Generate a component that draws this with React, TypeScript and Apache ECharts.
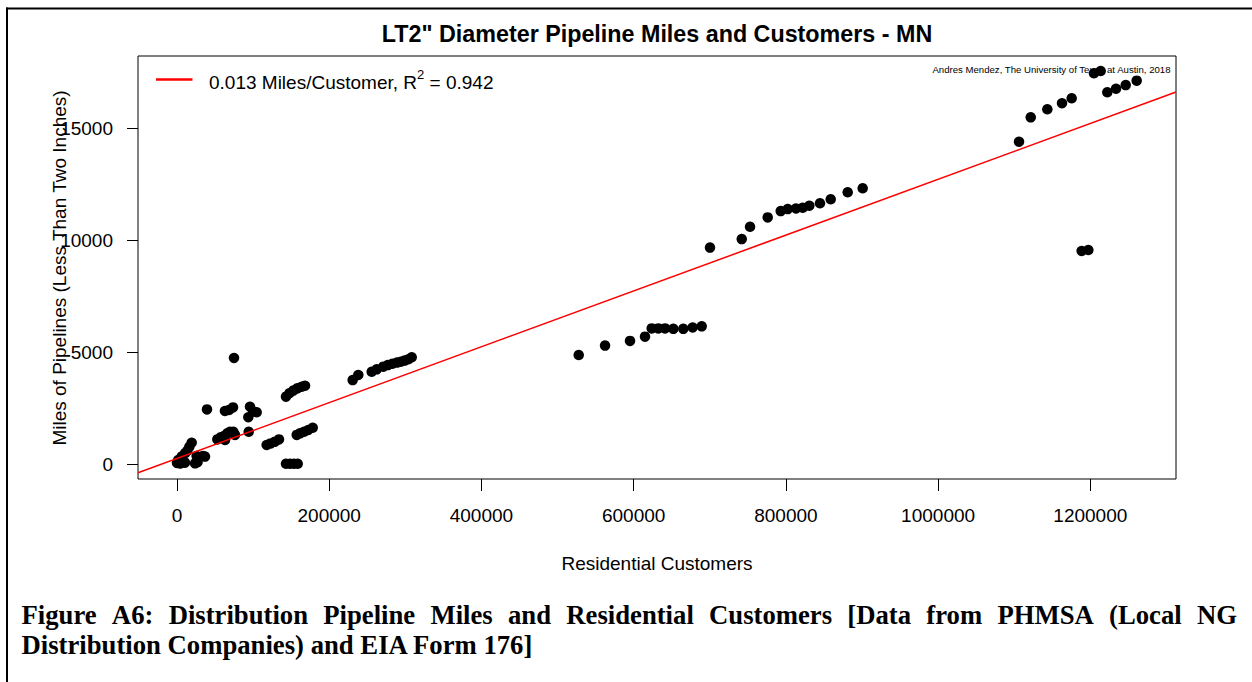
import React, { useEffect, useRef } from "react";
import * as echarts from "echarts";

// Residential customers (x) and miles of pipeline < 2" (y)
const customers = [
  0, 1700, 3900, 6100, 10500, 13500, 16200, 19300, 10500, 5000, 23700, 27000, 25800, 33800, 36800,
  39400,
  53000, 57400, 61800, 66100, 69600, 74000, 76200, 63100,
  63000, 68300, 73600,
  74900,
  93700, 95900, 100000, 104700, 94200,
  117800, 123100, 128800, 134000,
  143200, 148500, 153700, 158600,
  143200, 147600, 152800, 158100, 163800, 168200,
  157300, 161600, 166900, 172500, 178300,
  230800, 238200, 255800, 262400, 271100, 277000, 283000, 289000, 294000, 299000, 304000, 308400,
  527800, 562400, 595200, 614900, 623700, 632400, 641200, 652100, 665200, 677500, 689400,
  700300, 742000, 752900, 776100, 793200, 802400, 813300, 822100, 830800, 844800, 858900, 881200, 900900,
  1106300, 1121700, 1143500, 1162800, 1175500, 1204800, 1213600, 1222300, 1233800, 1246500, 1260900,
  1188600, 1197400,
];
const miles = [
  50, 180, 20, 330, 480, 590, 770, 950, 60, 40, 30, 80, 360, 360, 330,
  2440,
  1100, 1190, 1250, 1370, 1440, 1440, 1300, 1070,
  2370, 2410, 2530,
  4740,
  2090, 2560, 2350, 2310, 1440,
  850, 920, 1000, 1100,
  10, 10, 10, 10,
  3010, 3160, 3280, 3380, 3450, 3500,
  1300, 1370, 1440, 1520, 1620,
  3750, 3980, 4120, 4230, 4350, 4420, 4480, 4530, 4570, 4620, 4680, 4770,
  4870, 5290, 5500, 5690, 6060, 6060, 6060, 6040, 6040, 6100, 6150,
  9670, 10050, 10600, 11020, 11300, 11390, 11420, 11450, 11540, 11650, 11830, 12140, 12320,
  14400, 15490, 15850, 16120, 16340, 17460, 17560, 16610, 16770, 16930, 17130,
  9520, 9560,
];

// fitted line end points
const fitX = [-51240, 1312560];
const fitY = [-392, 16622];

const xTicks = [0, 200000, 400000, 600000, 800000, 1000000, 1200000];
const yTicks = [0, 5000, 10000, 15000];

const titleText = 'LT2" Diameter Pipeline Miles and Customers - MN';
const xTitle = "Residential Customers";
const yTitle = "Miles of Pipelines (Less Than Two Inches)";
const creditText = "Andres Mendez, The University of Texas at Austin, 2018";
const legendMain = "0.013 Miles/Customer, R";
const legendSup = "2";
const legendTail = " = 0.942";
const captionLine1 = [
  "Figure", "A6:", "Distribution", "Pipeline", "Miles", "and", "Residential",
  "Customers", "[Data", "from", "PHMSA", "(Local", "NG",
];
const captionLine2 = "Distribution Companies) and EIA Form 176]";

const SANS = '"Liberation Sans", Arial, sans-serif';
const SERIF = '"Liberation Serif", "Times New Roman", serif';

function textEl(x: number, y: number, text: string, opts: any = {}) {
  const align = opts.align || "left";
  const va = opts.verticalAlign || "middle";
  return {
    type: "text",
    x,
    y,
    rotation: opts.rotation || 0,
    z: opts.z ?? 0,
    style: {
      text,
      fontSize: opts.fontSize || 19,
      fontFamily: opts.fontFamily || SANS,
      fontWeight: opts.fontWeight || "normal",
      fill: opts.fill || "#000",
      align,
      textAlign: align,
      verticalAlign: va,
      textVerticalAlign: va,
    },
  };
}

export default function App() {
  const ref = useRef<HTMLDivElement>(null);

  useEffect(() => {
    if (!ref.current) return;
    const chart = echarts.init(ref.current, null, { renderer: "svg" });

    // justified first caption line
    const capSize = 26.7;
    const capFont = `bold ${capSize}px ${SERIF}`;
    const canvas = document.createElement("canvas");
    const ctx = canvas.getContext("2d");
    let widths = captionLine1.map((w) => w.length * 13);
    if (ctx) {
      ctx.font = capFont;
      widths = captionLine1.map((w) => ctx.measureText(w).width);
    }
    const capLeft = 21.5;
    const capRight = 1237;
    const total = widths.reduce((a, b) => a + b, 0);
    const gap = (capRight - capLeft - total) / (captionLine1.length - 1);
    const capEls: any[] = [];
    let cx = capLeft;
    captionLine1.forEach((w, i) => {
      capEls.push(textEl(cx, 615, w, { fontSize: capSize, fontFamily: SERIF, fontWeight: "bold" }));
      cx += widths[i] + gap;
    });
    capEls.push(textEl(capLeft, 645, captionLine2, { fontSize: capSize, fontFamily: SERIF, fontWeight: "bold" }));

    const option: any = {
      animation: false,
      backgroundColor: "#fff",
      grid: {
        left: 138,
        top: 56,
        right: 76,
        bottom: 203,
        show: true,
        borderColor: "#000",
        borderWidth: 1,
        backgroundColor: "transparent",
      },
      xAxis: {
        type: "value",
        min: -51240,
        max: 1312560,
        axisLine: { show: false, onZero: false },
        splitLine: { show: false },
        axisTick: { show: true, length: 12, customValues: xTicks, lineStyle: { color: "#000", width: 1 } },
        axisLabel: {
          customValues: xTicks,
          margin: 27,
          fontSize: 19,
          color: "#000",
          fontFamily: SANS,
          formatter: (v: number) => String(v),
        },
      },
      yAxis: {
        type: "value",
        min: -670,
        max: 18231,
        axisLine: { show: false, onZero: false },
        splitLine: { show: false },
        axisTick: { show: true, length: 11, customValues: yTicks, lineStyle: { color: "#000", width: 1 } },
        axisLabel: {
          customValues: yTicks,
          margin: 25,
          fontSize: 19,
          color: "#000",
          fontFamily: SANS,
          formatter: (v: number) => String(v),
        },
      },
      series: [
        {
          type: "scatter",
          data: customers.map((x, i) => [x, miles[i]]),
          symbol: "circle",
          symbolSize: 10.5,
          itemStyle: { color: "#000", opacity: 1 },
          z: 2,
        },
        {
          type: "line",
          data: fitX.map((x, i) => [x, fitY[i]]),
          symbol: "none",
          lineStyle: { color: "#ff0000", width: 1.5 },
          clip: true,
          z: 3,
        },
      ],
      graphic: [
        // page frame
        { type: "line", z: 0, shape: { x1: 6, y1: 8.5, x2: 1252, y2: 8.5 }, style: { stroke: "#000", lineWidth: 2 } },
        { type: "line", z: 0, shape: { x1: 7, y1: 7.5, x2: 7, y2: 682 }, style: { stroke: "#000", lineWidth: 2 } },
        textEl(657, 34, titleText, { fontSize: 23.3, fontWeight: "bold", align: "center" }),
        textEl(1170.5, 69, creditText, { fontSize: 9.6, align: "right" }),
        textEl(657, 563, xTitle, { fontSize: 19, align: "center" }),
        textEl(59, 268, yTitle, { fontSize: 19, align: "center", rotation: Math.PI / 2 }),
        // legend
        { type: "line", z: 0, shape: { x1: 156, y1: 79.5, x2: 192.5, y2: 79.5 }, style: { stroke: "#ff0000", lineWidth: 2.5 } },
        {
          type: "text",
          x: 209,
          y: 80,
          z: 0,
          style: {
            text: `{a|${legendMain}}{s|${legendSup}}{a|${legendTail}}`,
            align: "left",
            textAlign: "left",
            verticalAlign: "middle",
            textVerticalAlign: "middle",
            rich: {
              a: { fontSize: 19, fontFamily: SANS, fill: "#000", lineHeight: 24, verticalAlign: "bottom" },
              s: { fontSize: 13, fontFamily: SANS, fill: "#000", lineHeight: 14, verticalAlign: "top" },
            },
          },
        },
        ...capEls,
      ],
    };
    chart.setOption(option);
    return () => chart.dispose();
  }, []);

  return (
    <div
      ref={ref}
      style={{ position: "fixed", left: 0, top: 0, width: 1252, height: 682, background: "#fff" }}
    />
  );
}
